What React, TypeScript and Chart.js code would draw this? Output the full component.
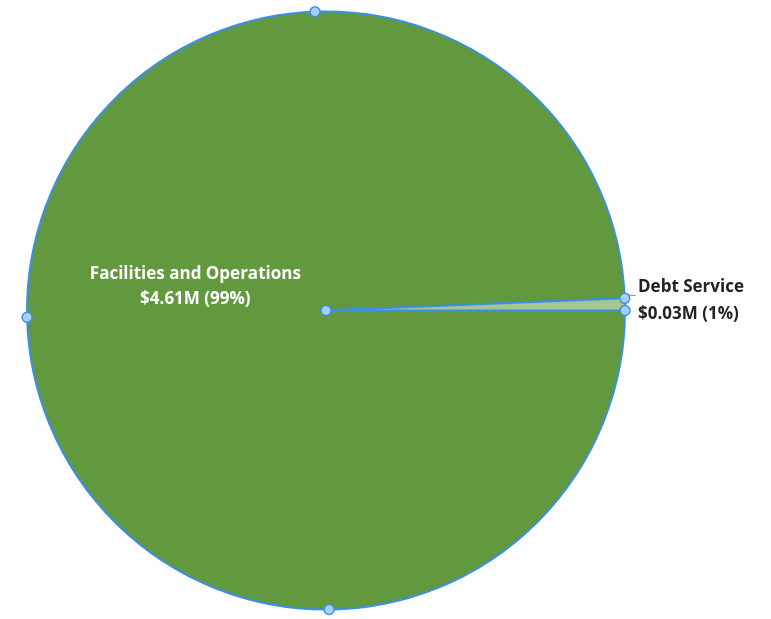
import React, { useEffect, useRef } from "react";
import { Chart, registerables } from "chart.js";

Chart.register(...registerables);

const categories = ["Facilities and Operations", "Debt Service"];
const amounts = [4.61, 0.03];
const sliceColors = ["#62983e", "#a6c690"];
const outlineColor = "#3d8fe3";
// selection-handle angles (degrees, screen coords) around the pie rim
const handleAngles = [-92.1, 178.7, 89.4];

const fmtLabel = (i: number, total: number) =>
  [categories[i], `$${amounts[i].toFixed(2)}M (${Math.round((amounts[i] / total) * 100)}%)`];

const labelPlugin = {
  id: "customLabels",
  afterDatasetsDraw(chart: any) {
    const ctx = chart.ctx;
    const meta = chart.getDatasetMeta(0);
    const arcs = meta.data;
    if (!arcs.length) return;
    const total = amounts.reduce((a, b) => a + b, 0);
    const a0 = arcs[0];
    const cx = a0.x;
    const cy = a0.y;
    const R = a0.outerRadius;

    ctx.save();
    ctx.font = "bold 17px 'Open Sans'";
    ctx.fillStyle = "#ffffff";
    ctx.textAlign = "center";
    ctx.textBaseline = "middle";
    const big = fmtLabel(0, total);
    const bx = cx - 0.437 * R;
    const by = cy - 0.08 * R;
    ctx.fillText(big[0], bx, by - 12.5);
    ctx.fillText(big[1], bx, by + 12.5);

    const a1 = arcs[1];
    const mid = (a1.startAngle + a1.endAngle) / 2;
    const edgeY = cy + Math.sin(a1.startAngle) * R;
    const edgeX = cx + Math.cos(a1.startAngle) * R;
    ctx.strokeStyle = "#8a8a8a";
    ctx.lineWidth = 1;
    ctx.beginPath();
    ctx.moveTo(edgeX + 2, edgeY - 3);
    ctx.lineTo(edgeX + 11, edgeY - 3);
    ctx.stroke();
    const small = fmtLabel(1, total);
    ctx.fillStyle = "#222222";
    ctx.textAlign = "left";
    const lx = cx + R + 13;
    const ly = cy + Math.sin(mid) * R - 4;
    ctx.fillText(small[0], lx, ly - 13);
    ctx.fillText(small[1], lx, ly + 14);

    const pts: [number, number][] = [];
    handleAngles.forEach((d) => {
      const r = (d * Math.PI) / 180;
      pts.push([cx + Math.cos(r) * R, cy + Math.sin(r) * R]);
    });
    pts.push([cx, cy]);
    pts.push([cx + Math.cos(a1.startAngle) * R, cy + Math.sin(a1.startAngle) * R]);
    pts.push([cx + Math.cos(a1.endAngle) * R, cy + Math.sin(a1.endAngle) * R]);
    pts.forEach(([x, y]) => {
      ctx.beginPath();
      ctx.arc(x, y, 5, 0, Math.PI * 2);
      ctx.fillStyle = "#a8d0f6";
      ctx.fill();
      ctx.lineWidth = 1.5;
      ctx.strokeStyle = outlineColor;
      ctx.stroke();
    });
    ctx.restore();
  },
};

export default function App() {
  const ref = useRef<HTMLCanvasElement>(null);
  useEffect(() => {
    if (!ref.current) return;
    const chart = new Chart(ref.current, {
      type: "pie",
      data: {
        labels: categories,
        datasets: [
          {
            data: amounts,
            backgroundColor: sliceColors,
            borderColor: outlineColor,
            borderWidth: 2,
          },
        ],
      },
      options: {
        responsive: false,
        animation: false,
        rotation: 90,
        layout: { padding: { left: 26, top: 10, right: 145, bottom: 8 } },
        plugins: {
          legend: { display: false },
          tooltip: { enabled: false },
        },
      },
      plugins: [labelPlugin],
    });
    return () => chart.destroy();
  }, []);
  return (
    <div style={{ position: "absolute", left: 0, top: 0, width: 771, height: 619, background: "#fff" }}>
      <canvas ref={ref} width={771} height={619} style={{ width: 771, height: 619 }} />
    </div>
  );
}
